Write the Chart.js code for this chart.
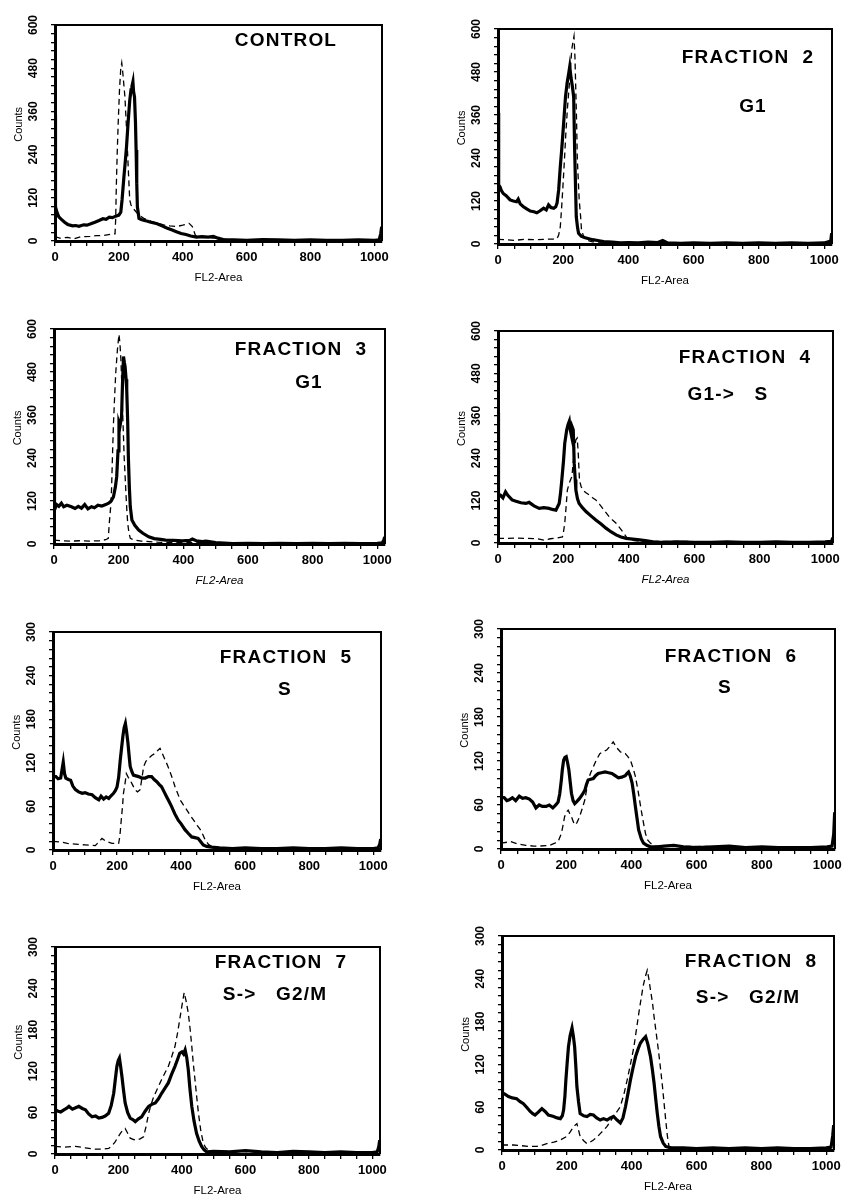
<!DOCTYPE html>
<html><head><meta charset="utf-8">
<script src="https://cdn.jsdelivr.net/npm/chart.js@4"></script>
<style>
html,body{margin:0;padding:0;background:#fff;}
body{width:843px;height:1195px;position:relative;overflow:hidden;}
</style></head><body>
<script>
// ---------- axis ticks ----------
const xTickValues = [0,50,100,150,200,250,300,350,400,450,500,550,600,650,700,750,800,850,900,950,1000];
const xLabelValues = [0,200,400,600,800,1000];
const yTicksHigh = [0,24,48,72,96,120,144,168,192,216,240,264,288,312,336,360,384,408,432,456,480,504,528,552,576,600];
const yLabelsHigh = [0,120,240,360,480,600];
const yTicksLow = [0,12,24,36,48,60,72,84,96,108,120,132,144,156,168,180,192,204,216,228,240,252,264,276,288,300];
const yLabelsLow = [0,60,120,180,240,300];

// ---------- series: [FL2-Area channel, Counts] ----------
const ctrlSolid = [[0,350],[1,300],[2,95],[6,80],[12,67],[20,60],[30,52],[40,46],[55,42],[65,43],[75,41],[90,45],[100,44],[110,47],[125,52],[138,57],[150,62],[160,60],[170,66],[180,65],[190,69],[200,72],[206,80],[210,114],[216,180],[220,220],[224,262],[229,330],[234,390],[238,420],[241,430],[244,442],[246,415],[249,400],[252,330],[254,253],[256,160],[258,95],[263,63],[270,60],[280,57],[290,55],[300,52],[310,50],[320,48],[335,42],[350,36],[365,31],[380,26],[395,21],[410,18],[425,14],[443,11],[460,12],[480,11],[496,13],[510,8],[527,4],[560,3],[600,2],[650,4],[700,3],[750,2],[800,3],[850,2],[900,2],[950,3],[1000,2],[1015,3],[1020,20],[1023,40]];
const ctrlDashed = [[0,12],[15,8],[40,10],[60,6],[80,12],[110,13],[130,15],[150,15],[175,19],[188,20],[190,60],[192,150],[195,250],[198,330],[202,420],[206,480],[209,495],[212,470],[216,430],[219,400],[223,330],[226,271],[230,190],[234,114],[238,100],[243,92],[253,82],[263,72],[280,62],[300,55],[320,50],[340,45],[360,42],[380,40],[400,44],[420,49],[430,40],[440,15],[460,10],[500,8],[550,3],[1023,3]];

const f2Solid = [[0,366],[1,300],[3,165],[6,160],[10,150],[16,141],[25,135],[37,123],[47,120],[57,118],[62,125],[68,112],[78,104],[88,98],[99,92],[110,90],[119,87],[128,92],[140,100],[148,95],[155,109],[162,102],[171,100],[177,104],[181,114],[186,151],[191,216],[195,260],[199,309],[203,360],[207,411],[212,450],[217,477],[220,495],[224,463],[228,440],[232,411],[235,263],[238,150],[240,76],[244,45],[247,30],[255,22],[265,18],[273,16],[290,12],[310,9],[324,7],[350,5],[376,3],[400,4],[430,3],[460,5],[490,4],[505,10],[520,3],[560,2],[600,3],[650,2],[700,3],[750,2],[800,3],[850,2],[900,3],[950,2],[1000,3],[1020,8],[1023,30]];
const f2Dashed = [[0,13],[20,12],[50,10],[80,13],[110,12],[140,13],[170,14],[181,15],[186,25],[191,48],[195,100],[199,160],[204,240],[208,309],[213,380],[219,449],[223,500],[226,542],[230,565],[233,580],[236,520],[238,449],[241,340],[243,243],[246,180],[249,123],[253,80],[256,39],[263,20],[273,10],[290,6],[350,4],[1023,3]];

const f3Solid = [[0,346],[1,300],[2,95],[8,110],[15,105],[23,114],[30,104],[40,108],[54,104],[65,99],[75,105],[85,100],[95,110],[105,98],[116,104],[125,101],[136,108],[148,106],[160,110],[169,114],[177,120],[184,132],[190,160],[194,188],[198,260],[201,337],[204,328],[207,345],[209,356],[212,450],[215,523],[218,505],[220,495],[223,460],[225,430],[228,340],[230,244],[233,160],[236,104],[241,67],[250,52],[262,39],[275,30],[293,20],[310,15],[330,13],[345,11],[370,10],[397,9],[420,10],[428,14],[440,9],[459,7],[470,8],[500,4],[553,1],[600,2],[650,1],[700,2],[750,1],[800,2],[850,1],[900,2],[950,1],[1000,2],[1015,3],[1020,10],[1023,20]];
const f3Dashed = [[0,11],[20,9],[50,8],[80,9],[110,8],[140,9],[160,12],[168,16],[171,58],[175,100],[178,151],[181,250],[184,337],[188,420],[191,477],[196,540],[201,585],[204,560],[207,514],[210,440],[212,374],[215,300],[217,244],[220,190],[222,151],[225,100],[228,58],[232,30],[236,16],[245,12],[270,8],[320,5],[400,4],[1023,2]];

const f4Solid = [[0,368],[1,300],[2,131],[8,135],[15,128],[23,145],[30,135],[43,122],[55,118],[70,114],[85,112],[95,115],[110,105],[126,98],[140,100],[156,98],[166,95],[177,93],[187,112],[191,140],[195,178],[200,230],[204,282],[210,320],[214,335],[218,345],[221,320],[223,311],[226,330],[230,320],[233,226],[236,180],[238,150],[243,125],[248,112],[258,100],[269,89],[285,76],[299,65],[315,54],[330,42],[345,32],[361,23],[376,17],[392,13],[412,11],[433,9],[455,6],[474,3],[500,2],[550,3],[600,2],[650,2],[700,3],[750,2],[800,2],[850,3],[900,2],[950,2],[1000,3],[1020,5],[1023,15]];
const f4Dashed = [[0,13],[30,13],[60,14],[90,13],[120,12],[140,8],[160,12],[180,14],[197,17],[200,30],[204,56],[208,100],[212,150],[218,170],[222,180],[226,188],[230,230],[234,270],[238,292],[242,297],[245,260],[249,178],[254,160],[259,150],[269,142],[279,136],[289,128],[299,122],[310,110],[320,98],[330,86],[340,74],[350,65],[361,56],[371,44],[381,32],[390,20],[396,13],[410,8],[430,5],[1023,2]];

const f5Solid = [[0,202],[1,150],[2,101],[9,101],[16,98],[24,99],[28,110],[32,121],[36,105],[40,99],[48,97],[55,96],[62,88],[70,83],[80,80],[91,78],[100,79],[110,77],[122,76],[132,72],[143,69],[150,74],[158,70],[166,73],[174,71],[182,75],[189,78],[195,82],[200,87],[205,100],[210,124],[214,140],[218,156],[222,168],[226,174],[230,162],[234,147],[238,128],[241,115],[246,108],[251,103],[259,102],[267,101],[277,99],[288,99],[298,101],[308,101],[316,97],[324,94],[332,90],[339,87],[347,80],[355,73],[362,67],[370,60],[380,50],[391,41],[400,36],[412,28],[422,23],[433,18],[443,17],[453,16],[460,12],[469,7],[480,5],[495,4],[520,3],[560,2],[600,3],[650,2],[700,2],[750,3],[800,2],[850,2],[900,3],[950,2],[1000,2],[1015,3],[1020,8],[1023,15]];
const f5Dashed = [[0,12],[24,11],[45,9],[70,8],[100,7],[132,6],[145,12],[153,16],[165,12],[184,9],[205,9],[209,20],[213,41],[217,60],[220,78],[225,92],[229,105],[235,100],[241,96],[248,90],[256,83],[264,80],[272,83],[278,100],[283,115],[290,122],[298,126],[308,130],[319,133],[327,137],[334,140],[342,132],[350,124],[358,116],[365,108],[373,98],[381,87],[389,78],[397,69],[407,62],[418,55],[428,48],[439,41],[450,34],[460,28],[468,21],[475,14],[485,8],[495,5],[520,3],[1023,2]];

const f6Solid = [[0,190],[1,130],[2,71],[10,70],[18,66],[25,67],[35,70],[45,66],[56,72],[66,69],[76,70],[87,68],[97,64],[107,56],[117,60],[127,58],[138,58],[148,60],[159,56],[168,60],[175,64],[180,75],[185,94],[188,108],[192,121],[196,125],[200,126],[204,118],[208,108],[212,92],[216,76],[221,66],[226,62],[233,65],[241,69],[249,74],[257,80],[262,88],[267,94],[275,95],[283,96],[290,100],[298,103],[308,104],[319,105],[330,104],[340,103],[350,100],[360,97],[370,98],[381,100],[386,103],[391,105],[396,100],[402,90],[407,75],[412,58],[417,42],[422,26],[430,14],[437,8],[447,5],[458,3],[480,3],[500,4],[530,5],[560,3],[600,2],[650,3],[700,4],[750,2],[800,3],[850,2],[900,2],[950,2],[1000,3],[1015,4],[1020,20],[1023,50]];
const f6Dashed = [[0,8],[30,10],[50,7],[76,5],[100,4],[118,4],[149,5],[165,8],[175,10],[185,21],[190,32],[195,44],[200,50],[206,53],[211,48],[216,44],[221,38],[226,33],[233,36],[241,44],[249,55],[257,67],[262,80],[267,94],[275,104],[283,112],[293,122],[303,130],[314,133],[324,135],[334,140],[344,146],[355,138],[365,133],[373,130],[381,130],[389,126],[397,121],[405,110],[412,99],[420,80],[428,58],[435,40],[443,21],[450,12],[458,8],[470,4],[1023,2]];

const f7Solid = [[0,190],[1,120],[2,64],[10,62],[18,61],[28,64],[36,66],[44,69],[55,65],[65,67],[75,69],[86,66],[96,64],[106,58],[117,54],[128,55],[138,52],[148,53],[158,55],[169,59],[177,70],[185,88],[190,108],[195,127],[199,135],[203,139],[207,126],[211,112],[216,92],[221,74],[229,60],[237,52],[245,50],[253,47],[263,51],[273,54],[284,62],[295,69],[305,72],[316,74],[326,80],[336,88],[346,95],[357,103],[367,115],[378,127],[386,137],[393,146],[400,148],[405,145],[410,151],[415,140],[420,122],[425,95],[431,69],[438,48],[446,30],[454,19],[462,11],[470,6],[478,3],[500,4],[550,3],[600,5],[650,3],[700,2],[750,4],[800,3],[850,2],[900,3],[950,2],[1000,2],[1015,3],[1020,10],[1023,20]];
const f7Dashed = [[0,11],[30,10],[65,11],[95,9],[128,7],[150,7],[169,8],[180,12],[190,18],[198,24],[206,30],[213,34],[221,37],[229,30],[237,23],[248,21],[258,20],[268,22],[279,25],[287,40],[295,59],[303,72],[311,83],[323,95],[336,108],[347,118],[357,127],[367,140],[378,156],[386,175],[393,195],[400,215],[407,234],[413,222],[420,204],[426,180],[431,156],[436,130],[441,108],[446,85],[452,59],[459,35],[467,16],[475,9],[483,6],[500,4],[1023,2]];

const f8Solid = [[0,196],[1,130],[2,80],[10,78],[20,75],[32,73],[45,72],[55,68],[66,65],[76,60],[87,54],[95,51],[102,49],[112,53],[123,58],[133,54],[143,49],[151,48],[159,47],[170,45],[180,44],[186,48],[190,56],[194,75],[197,98],[201,122],[205,145],[210,160],[216,171],[220,160],[224,145],[228,115],[231,89],[236,68],[241,51],[252,48],[262,47],[272,50],[282,49],[292,45],[303,42],[313,44],[324,42],[334,45],[344,47],[355,42],[365,38],[373,45],[381,61],[388,78],[396,98],[404,115],[412,131],[420,142],[427,150],[435,155],[443,159],[450,148],[458,131],[464,112],[469,94],[474,72],[479,51],[484,33],[489,19],[497,10],[505,5],[520,3],[560,3],[600,2],[650,3],[700,2],[750,3],[800,2],[850,3],[900,2],[950,2],[1000,3],[1015,4],[1020,20],[1023,35]];
const f8Dashed = [[0,7],[20,7],[35,7],[60,6],[85,5],[107,5],[125,7],[138,9],[160,11],[180,14],[200,19],[210,25],[221,33],[231,37],[236,28],[241,19],[252,13],[262,9],[272,11],[282,14],[293,18],[303,23],[314,28],[324,33],[334,40],[344,47],[355,54],[365,61],[376,78],[386,98],[397,122],[407,145],[415,170],[422,192],[429,212],[435,229],[442,243],[448,252],[453,240],[458,224],[464,207],[469,187],[475,166],[481,145],[488,118],[495,89],[500,65],[505,42],[510,20],[515,5],[530,3],[1023,2]];

// ---------- panel texts ----------
const panelTitles = ["CONTROL","FRACTION  2","FRACTION  3","FRACTION  4","FRACTION  5","FRACTION  6","FRACTION  7","FRACTION  8"];
const panelPhases = ["","G1","G1","G1->   S","S","S","S->   G2/M","S->   G2/M"];

// ---------- layout (plot frame in page pixels: left, top, right, bottom) ----------
const panels = [
  {box:[55,25,382,241],  high:true,  solid:ctrlSolid, dashed:ctrlDashed, t:[231,16], ph:null,     italic:false},
  {box:[498,29,832,244], high:true,  solid:f2Solid,   dashed:f2Dashed,   t:[250,29], ph:[255,78], italic:false},
  {box:[54,329,385,544], high:true,  solid:f3Solid,   dashed:f3Dashed,   t:[247,21], ph:[255,54], italic:true},
  {box:[498,331,833,543],high:true,  solid:f4Solid,   dashed:f4Dashed,   t:[247,27], ph:[230,64], italic:true},
  {box:[53,632,381,850], high:false, solid:f5Solid,   dashed:f5Dashed,   t:[233,26], ph:[232,58], italic:false},
  {box:[501,629,835,849],high:false, solid:f6Solid,   dashed:f6Dashed,   t:[230,28], ph:[224,59], italic:false},
  {box:[55,947,380,1154],high:false, solid:f7Solid,   dashed:f7Dashed,   t:[226,16], ph:[220,48], italic:false},
  {box:[502,936,834,1150],high:false,solid:f8Solid,   dashed:f8Dashed,   t:[249,26], ph:[246,62], italic:false}
];

const FONT = '"Liberation Sans", Arial, Helvetica, sans-serif';

function makeChart(p, i){
  const [L,T,R,B] = p.box;
  const padL = 48, padT = 12, padR = 18, padB = 52;
  const W = R - L, H = B - T;
  const cv = document.createElement('canvas');
  cv.width = W + padL + padR; cv.height = H + padT + padB;
  cv.style.cssText = `position:absolute;left:${L-padL}px;top:${T-padT}px;width:${cv.width}px;height:${cv.height}px;`;
  document.body.appendChild(cv);
  const yTicks = p.high ? yTicksHigh : yTicksLow;
  const yLabels = p.high ? yLabelsHigh : yLabelsLow;
  const yMax = p.high ? 600 : 300;

  const deco = {
    id:'deco'+i,
    afterDraw(chart){
      const ctx = chart.ctx, ca = chart.chartArea, ys = chart.scales.y;
      ctx.save();
      ctx.strokeStyle = '#000'; ctx.lineWidth = 2;
      ctx.beginPath();
      ctx.moveTo(ca.left, ca.top); ctx.lineTo(ca.right, ca.top); ctx.lineTo(ca.right, ca.bottom);
      ctx.stroke();
      ctx.fillStyle = '#000';
      ctx.textAlign = 'center'; ctx.textBaseline = 'middle';
      ctx.font = 'bold 12px ' + FONT;
      for (const v of yLabels){
        const py = ys.getPixelForValue(v);
        ctx.save(); ctx.translate(ca.left - 21, py); ctx.rotate(-Math.PI/2);
        ctx.fillText(String(v), 0, 0); ctx.restore();
      }
      ctx.font = '11px ' + FONT;
      ctx.save(); ctx.translate(ca.left - 36, ca.top + 0.46*(ca.bottom-ca.top)); ctx.rotate(-Math.PI/2);
      ctx.fillText('Counts', 0, 0); ctx.restore();
      ctx.font = (p.italic ? 'italic ' : '') + '11.5px ' + FONT;
      ctx.fillText('FL2-Area', (ca.left+ca.right)/2, ca.bottom + 37);
      ctx.font = 'bold 19px ' + FONT;
      try { ctx.letterSpacing = '1.2px'; } catch(e){}
      ctx.fillText(panelTitles[i], ca.left + p.t[0], ca.top + p.t[1]);
      if (p.ph) ctx.fillText(panelPhases[i], ca.left + p.ph[0], ca.top + p.ph[1]);
      ctx.restore();
    }
  };

  new Chart(cv, {
    type:'line',
    data:{datasets:[
      {data:p.solid.map(([x,y])=>({x,y})), borderColor:'#000', borderWidth:3.2, pointRadius:0, tension:0, fill:false, order:1},
      {data:p.dashed.map(([x,y])=>({x,y})), borderColor:'#000', borderWidth:1.3, borderDash:[6,4], pointRadius:0, tension:0, fill:false, order:0}
    ]},
    options:{
      responsive:false, animation:false, events:[],
      layout:{padding:{left:0, top:padT, right:padR, bottom:0}},
      plugins:{legend:{display:false}, tooltip:{enabled:false}, title:{display:false}},
      scales:{
        x:{type:'linear', min:0, max:1024,
           afterBuildTicks:s=>{ s.ticks = xTickValues.map(v=>({value:v})); },
           afterFit:s=>{ s.height = padB; },
           grid:{drawOnChartArea:false, drawTicks:true, tickLength:5, color:'#000', lineWidth:1.3},
           border:{display:true, color:'#000', width:3},
           ticks:{autoSkip:false, maxRotation:0, minRotation:0, padding:4, color:'#000',
                  font:{family:FONT, size:13, weight:'bold'},
                  callback:v => xLabelValues.includes(v) ? String(v) : ''}},
        y:{type:'linear', min:0, max:yMax,
           afterBuildTicks:s=>{ s.ticks = yTicks.map(v=>({value:v})); },
           afterFit:s=>{ s.width = padL; },
           grid:{drawOnChartArea:false, drawTicks:true, tickLength:4, color:'#000', lineWidth:1.3},
           border:{display:true, color:'#000', width:3},
           ticks:{display:false}}
      }
    },
    plugins:[deco]
  });
}

panels.forEach((p,i)=>makeChart(p,i));
</script>
</body></html>
